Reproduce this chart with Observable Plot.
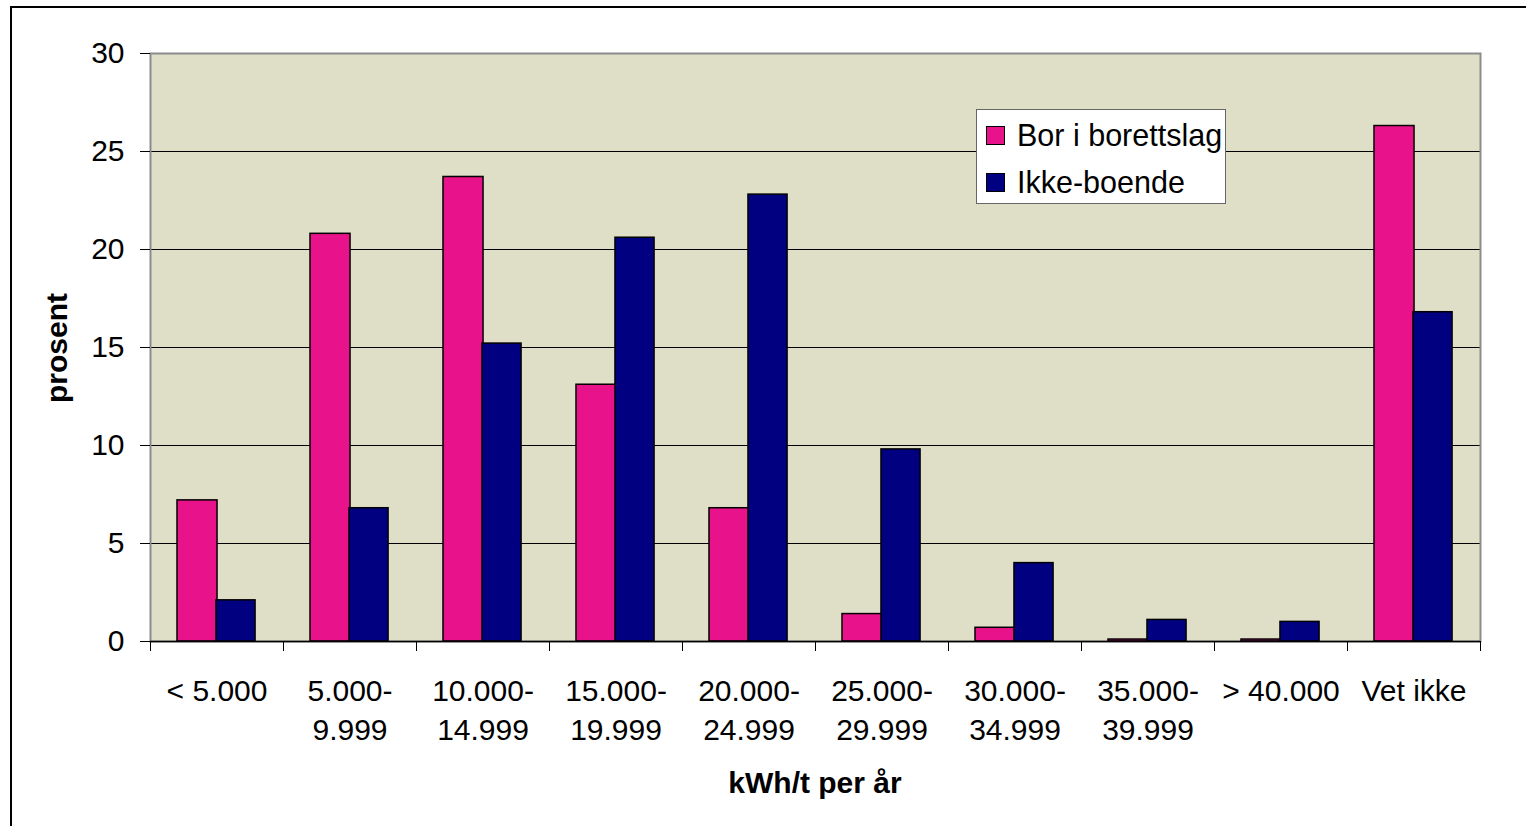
<!DOCTYPE html>
<html><head><meta charset="utf-8">
<script src="https://cdn.jsdelivr.net/npm/d3@7"></script>
<script src="https://cdn.jsdelivr.net/npm/@observablehq/plot@0.6"></script>
<style>
html,body{margin:0;padding:0;background:#fff;overflow:hidden;width:1526px;height:826px;}
#wrap{position:relative;width:1526px;height:826px;font-family:"Liberation Sans",Arial,sans-serif;}
#border{position:absolute;left:10px;top:6px;width:1600px;height:900px;border:2px solid #000;box-sizing:border-box;}
#chart{position:absolute;left:0;top:0;}
#legend{position:absolute;left:976px;top:109px;width:250px;height:95px;background:#fff;border:1px solid #666;box-sizing:border-box;font-size:30.5px;color:#000;}
.row{position:absolute;left:9px;display:flex;align-items:center;white-space:nowrap;}
.sw{width:17px;height:17px;border:1px solid #000;margin-right:12px;}
#ylab{position:absolute;left:57px;top:348px;transform:translate(-50%,-50%) rotate(-90deg);font-weight:bold;font-size:30px;white-space:nowrap;}
#xlab{position:absolute;left:815px;top:783px;transform:translate(-50%,-50%);font-weight:bold;font-size:30px;white-space:nowrap;}
</style></head>
<body><div id="wrap"><div id="border"></div><div id="chart"></div>
<div id="ylab">prosent</div><div id="xlab">kWh/t per år</div>
<div id="legend">
<div class="row" style="top:8px"><div class="sw" style="background:#e8128a"></div>Bor i borettslag</div>
<div class="row" style="top:55px"><div class="sw" style="background:#000080"></div>Ikke-boende</div>
</div></div>
<script>
const categories = ["< 5.000", "5.000-\n9.999", "10.000-\n14.999", "15.000-\n19.999", "20.000-\n24.999", "25.000-\n29.999", "30.000-\n34.999", "35.000-\n39.999", "> 40.000", "Vet ikke"];
const borIBorettslag = [7.2, 20.8, 23.7, 13.1, 6.8, 1.4, 0.7, 0.1, 0.1, 26.3];
const ikkeBoende = [2.1, 6.8, 15.2, 20.6, 22.8, 9.8, 4.0, 1.1, 1.0, 16.8];
const yTicks = [0, 5, 10, 15, 20, 25, 30];

const rows = categories.map((c, i) => ({cat: c, bor: borIBorettslag[i], ikke: ikkeBoende[i]}));

const W = 1526, H = 826, mL = 150, mR = 46, mT = 53, mB = 185;
const band = (W - mL - mR) / categories.length;
const plotH = H - mT - mB;

const chart = Plot.plot({
  width: W, height: H,
  marginLeft: mL, marginRight: mR, marginTop: mT, marginBottom: mB,
  style: {fontFamily: "'Liberation Sans', Arial, sans-serif", fontSize: "30px", background: "transparent", color: "#000", overflow: "visible"},
  x: {domain: categories, padding: 0, axis: null},
  y: {domain: [0, 30], axis: null},
  marks: [
    Plot.frame({fill: "#dfdfc8", stroke: null}),
    Plot.gridY(yTicks.filter(t => t > 0 && t < 30), {stroke: "#000", strokeOpacity: 1, strokeWidth: 1}),
    Plot.frame({stroke: "#8c8c8c", strokeWidth: 2}),
    Plot.barY(rows, {x: "cat", y: "bor", insetLeft: band * 0.203, insetRight: band * 0.496, fill: "#e8128a", stroke: "#000", strokeWidth: 1.5}),
    Plot.barY(rows, {x: "cat", y: "ikke", insetLeft: band * 0.496, insetRight: band * 0.21, fill: "#000080", stroke: "#000", strokeWidth: 1.5}),
    Plot.ruleY([0], {stroke: "#000", strokeWidth: 1.5}),
    Plot.axisY({ticks: yTicks, tickSize: 10, tickPadding: 16, label: null, fontSize: 30}),
    Plot.axisX({tickSize: 0, tickPadding: 31, label: null, fontSize: 30, lineHeight: 1.32}),
    Plot.ruleX(categories, {x: d => d, dx: -band / 2, insetTop: plotH, insetBottom: -10, stroke: "#000"}),
    Plot.ruleX(categories.slice(-1), {x: d => d, dx: band / 2, insetTop: plotH, insetBottom: -10, stroke: "#000"})
  ]
});
document.getElementById("chart").appendChild(chart);
</script></body></html>
